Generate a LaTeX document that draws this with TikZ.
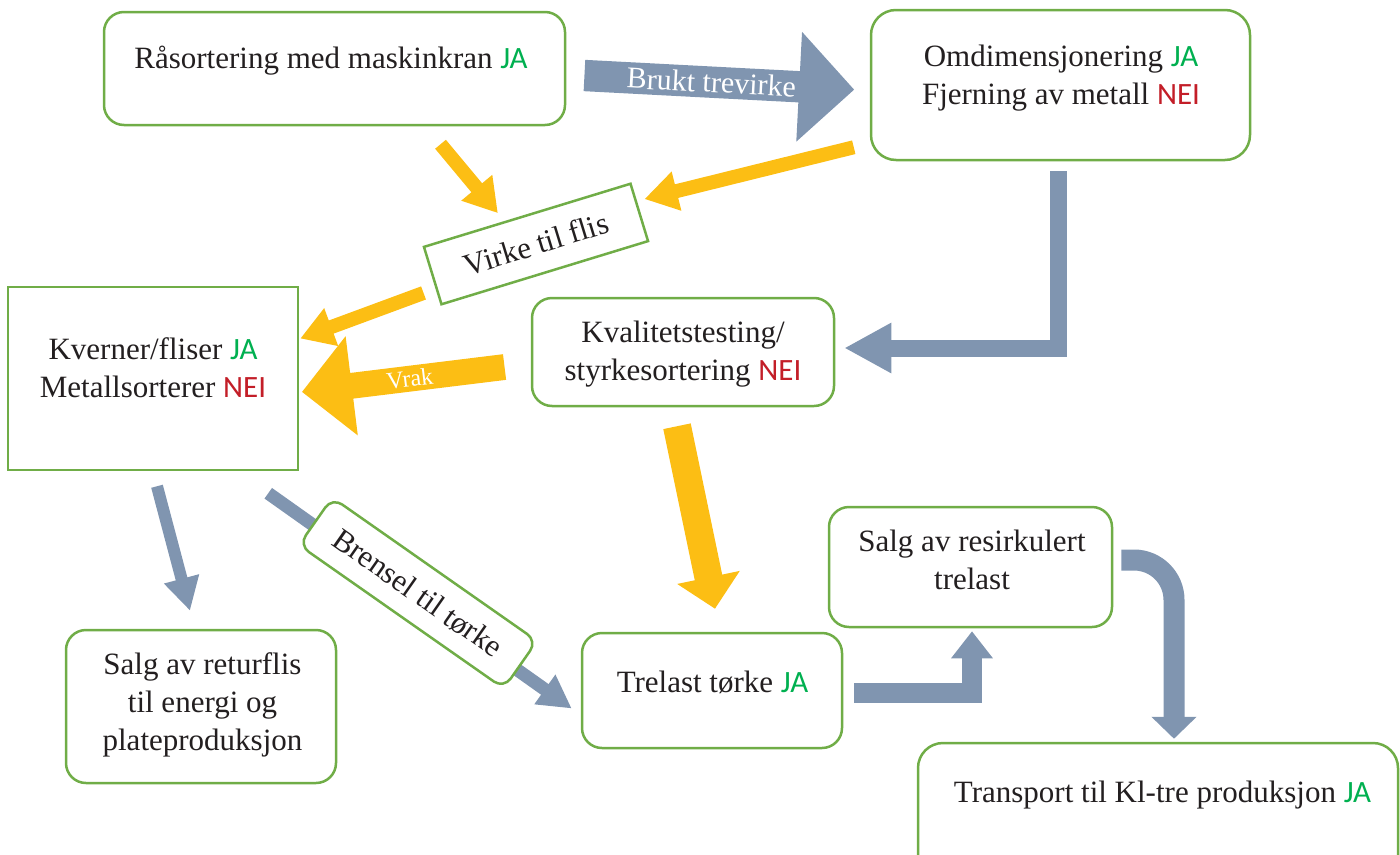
\documentclass[tikz,border=0pt]{standalone}
\usepackage{fontspec}
\setmainfont{Liberation Serif}
\newfontfamily\calfont{Carlito}
\usetikzlibrary{positioning, calc, arrows.meta, shapes.arrows}

\definecolor{boxgreen}{RGB}{112,173,71}
\definecolor{jagreen}{RGB}{0,176,80}
\definecolor{neired}{RGB}{195,30,40}
\definecolor{arrowgray}{RGB}{128,149,176}
\definecolor{arrowyellow}{RGB}{252,190,20}
\definecolor{textblack}{RGB}{35,31,32}

\newcommand{\jatag}{{\calfont\color{jagreen}JA}}
\newcommand{\neitag}{{\calfont\color{neired}NEI}}

\begin{document}
\begin{tikzpicture}[x=1pt, y=-1pt]
        % Define block styles
        \tikzstyle{block} = [rectangle, draw=boxgreen, line width=2.5pt, fill=white, rounded corners=20pt]
        \tikzstyle{boxtext} = [align=center, anchor=base, inner sep=0pt, text=textblack, font=\fontsize{31}{38}\selectfont]
        \tikzstyle{tiltbox} = [rectangle, draw=boxgreen, line width=2.5pt, fill=white, text=textblack, font=\fontsize{31}{38}\selectfont]
        \tikzstyle{fatarrow} = [single arrow, single arrow tip angle=90, inner sep=0pt, text=white, anchor=tail]
        \tikzstyle{yarrow} = [draw=arrowyellow, line width=14pt, -{Triangle[length=33pt, width=38pt]}]
        \tikzstyle{garrow} = [draw=arrowgray, line width=12pt, -{Triangle[length=33pt, width=34pt]}]

        \useasboundingbox (0,0) rectangle (1400,854);
        \clip (0,0) rectangle (1400,854);

        % Place nodes
        \node [block, minimum width=461pt, minimum height=113pt] (raasortering) at (334.5,68.5) {};
        \node [block, rounded corners=25pt, minimum width=379pt, minimum height=150pt] (omdimensjonering) at (1060.5,85) {};
        \node [block, rounded corners=0pt, minimum width=290pt, minimum height=183pt] (kverner) at (153,378.5) {};
        \node [block, minimum width=302pt, minimum height=108pt] (kvalitet) at (683,352) {};
        \node [block, minimum width=283pt, minimum height=120pt] (resirk) at (970.5,567) {};
        \node [block, minimum width=270pt, minimum height=153pt] (returflis) at (201,706.5) {};
        \node [block, minimum width=260pt, minimum height=115pt] (torke) at (712,690.5) {};
        \node [block, rounded corners=25pt, minimum width=480pt, minimum height=146pt] (transport) at (1158,816) {};
        \node [tiltbox, minimum width=216pt, minimum height=60pt, rotate=17] (virke) at (536,244) {Virke til flis};

        % Text in the boxes (base = last line)
        \node [boxtext] (raasortering_txt) at (331,68) {Råsortering med maskinkran \jatag};
        \node [boxtext] (omdimensjonering_txt) at (1061,104) {Omdimensjonering \jatag\\Fjerning av metall \neitag};
        \node [boxtext] (kverner_txt) at (153,397) {Kverner/fliser \jatag\\Metallsorterer \neitag};
        \node [boxtext] (kvalitet_txt) at (683,380) {Kvalitetstesting/\\styrkesortering \neitag};
        \node [boxtext] (resirk_txt) at (972,589) {Salg av resirkulert\\trelast};
        \node [boxtext] (returflis_txt) at (202.5,750) {Salg av returflis\\til energi og\\plateproduksjon};
        \node [boxtext] (torke_txt) at (712.5,692) {Trelast tørke \jatag};
        \node [boxtext] (transport_txt) at (1162.5,802) {Transport til Kl-tre produksjon \jatag};

        % Draw connections as arrows
        \node [fatarrow, fill=arrowgray, minimum height=270pt, minimum width=110pt, single arrow head extend=27pt, rotate=-3, font=\fontsize{30}{36}\selectfont] (brukt) at ($(raasortering.east)+(18,7)$) {Brukt trevirke};
        \node [fatarrow, fill=arrowyellow, minimum height=204pt, minimum width=100pt, single arrow head extend=25pt, shape border rotate=180, rotate=7, font=\fontsize{24}{28}\selectfont] (vrak) at ($(kvalitet.west)+(-26,15)$) {Vrak};

        \draw [yarrow] ($(raasortering.south)+(106,18)$) -- ($(virke.north)+(-29,-1)$);
        \draw [yarrow] ($(omdimensjonering.south west)+(-16,-14)$) -- ($(virke.east)+(4,-13)$);
        \draw [yarrow] ($(virke.west)+(-8,17)$) -- ($(kverner.east)+(1,-40)$);
        \draw [yarrow, line width=28pt, -{Triangle[length=32pt, width=62pt]}] ($(kvalitet.south)+(-6,19)$) -- ($(torke.north)+(3,-23)$);

        \draw [garrow, line width=17pt, -{Triangle[length=47pt, width=47pt]}] ($(omdimensjonering.south)+(-2,10)$) |- ($(kvalitet.east)+(9,-4)$);
        \draw [garrow] ($(kverner.south)+(4,15)$) -- ($(returflis.north)+(-11,-18)$);
        \draw [garrow, line width=13pt] ($(kverner.south east)+(-31,22)$) -- ($(torke.west)+(-9,18)$);
        \draw [garrow, line width=20pt, -{Triangle[length=27pt, width=40pt]}] ($(torke.east)+(11,2)$) -| ($(resirk.south)+(1.5,3)$);
        \draw [garrow, line width=21pt, rounded corners=40pt, -{Triangle[length=22pt, width=44pt]}] ($(resirk.east)+(8,-7)$) -| ($(transport.north)+(16,-3)$);

        % Label box on the fuel arrow
        \node [tiltbox, rounded corners=12pt, minimum width=250pt, minimum height=58pt, rotate=-35] (brensel) at (418,593) {Brensel til tørke};
\end{tikzpicture}
\end{document}
